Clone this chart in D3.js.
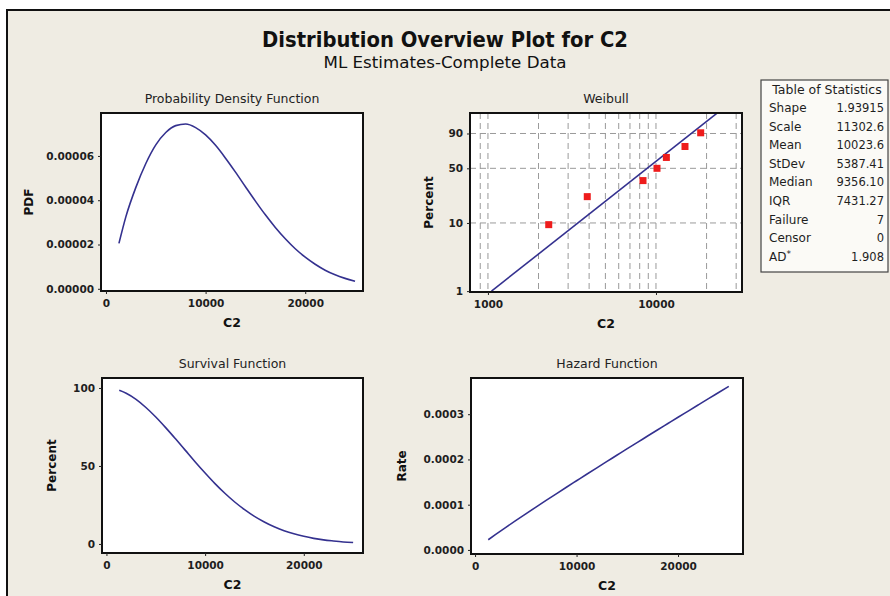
<!DOCTYPE html>
<html>
<head>
<meta charset="utf-8">
<script src="https://cdn.jsdelivr.net/npm/d3@7"></script>
<style>
  body { margin: 0; background: #fff; }
  svg { display: block; }
</style>
</head>
<body>
<svg id="chart" width="890" height="596"></svg>
<script>
// values
const xValues = [1300, 2000, 3000, 4000, 5000, 6000, 7000, 8000, 9000, 10000, 11000, 12000,
                 13000, 14000, 15000, 16000, 17000, 18000, 19000, 20000, 21000, 22000, 23000, 24000, 25000];
const pdfValues = [2.05e-5, 3.26e-5, 4.58e-5, 5.66e-5, 6.50e-5, 7.06e-5, 7.37e-5, 7.44e-5, 7.28e-5, 6.95e-5,
                   6.48e-5, 5.90e-5, 5.27e-5, 4.61e-5, 3.96e-5, 3.34e-5, 2.77e-5, 2.26e-5, 1.81e-5, 1.43e-5,
                   1.11e-5, 0.84e-5, 0.63e-5, 0.47e-5, 0.34e-5];
const survivalValues = [98.5, 96.6, 92.7, 87.5, 81.4, 74.6, 67.4, 60.0, 52.6, 45.5, 38.7, 32.5, 26.9,
                        22.0, 17.7, 14.1, 11.0, 8.5, 6.5, 4.9, 3.6, 2.6, 1.9, 1.3, 0.9];
const hazardValues = [2.25e-5, 3.37e-5, 4.94e-5, 6.47e-5, 7.98e-5, 9.47e-5, 1.094e-4, 1.240e-4, 1.385e-4,
                      1.529e-4, 1.673e-4, 1.815e-4, 1.956e-4, 2.097e-4, 2.238e-4, 2.377e-4, 2.517e-4,
                      2.656e-4, 2.794e-4, 2.932e-4, 3.069e-4, 3.206e-4, 3.343e-4, 3.479e-4, 3.615e-4];

// Weibull probability plot
const failureTimes = [2300, 3900, 8370, 10140, 11530, 14880, 18450];
const failurePercent = [9.46, 22.97, 36.49, 50.0, 63.51, 77.03, 90.54];
const fitTimes = [1050, 23000];
const fitPercent = [1, 99];
const weibullXGrid = [900, 1000, 2000, 3000, 4000, 5000, 6000, 7000, 8000, 9000, 10000, 20000, 30000];
const weibullXTicks = [1000, 10000];
const weibullYTicks = [1, 10, 50, 90];
const weibullYGrid = [10, 50, 90];

const linearXTicks = [0, 10000, 20000];
const pdfTicks = [0, 0.00002, 0.00004, 0.00006];
const survivalTicks = [0, 50, 100];
const hazardTicks = [0, 0.0001, 0.0002, 0.0003];

const statNames = ['Shape', 'Scale', 'Mean', 'StDev', 'Median', 'IQR', 'Failure', 'Censor', 'AD*'];
const statValues = ['1.93915', '11302.6', '10023.6', '5387.41', '9356.10', '7431.27', '7', '0', '1.908'];

const font = "'DejaVu Sans', Verdana, sans-serif";
const ink = '#1e1e1e';
const curveColor = '#34318f';

const svg = d3.select('#chart');

// figure background + frame
svg.append('rect').attr('x', 7).attr('y', 10).attr('width', 900).attr('height', 600).attr('fill', '#efece3');
svg.append('path').attr('d', 'M7,600V10H900').attr('fill', 'none').attr('stroke', '#111').attr('stroke-width', 2);

svg.append('text')
    .attr('x', 445).attr('y', 47)
    .attr('text-anchor', 'middle')
    .attr('textLength', 366).attr('lengthAdjust', 'spacingAndGlyphs')
    .style('font-family', font).style('font-weight', 'bold').style('font-size', '22px').style('fill', '#111')
    .text('Distribution Overview Plot for C2');

svg.append('text')
    .attr('x', 445).attr('y', 68)
    .attr('text-anchor', 'middle')
    .attr('textLength', 243).attr('lengthAdjust', 'spacingAndGlyphs')
    .style('font-family', font).style('font-size', '15px').style('fill', '#111')
    .text('ML Estimates-Complete Data');

let clipId = 0;

function panel(box, title) {
    let g = svg.append('g');
    g.append('rect')
        .attr('x', box.x0).attr('y', box.y0)
        .attr('width', box.x1 - box.x0).attr('height', box.y1 - box.y0)
        .attr('fill', '#fff');
    g.append('text')
        .attr('x', (box.x0 + box.x1) / 2).attr('y', box.y0 - 10)
        .attr('text-anchor', 'middle')
        .style('font-family', font).style('font-size', '12.5px').style('fill', '#222')
        .text(title);
    clipId++;
    svg.append('clipPath').attr('id', 'clip' + clipId)
        .append('rect')
        .attr('x', box.x0).attr('y', box.y0)
        .attr('width', box.x1 - box.x0).attr('height', box.y1 - box.y0);
    g.clip = 'url(#clip' + clipId + ')';
    return g;
}

function border(g, box) {
    g.append('rect')
        .attr('x', box.x0).attr('y', box.y0)
        .attr('width', box.x1 - box.x0).attr('height', box.y1 - box.y0)
        .attr('fill', 'none').attr('stroke', '#111').attr('stroke-width', 2);
}

function styleAxis(a) {
    a.select('.domain').remove();
    a.selectAll('line').attr('stroke', '#222');
    a.selectAll('text')
        .style('font-family', font).style('font-size', '10.5px').style('font-weight', 'bold').style('fill', ink);
}

function axes(g, box, x, y, xTicks, yTicks, xFmt, yFmt, xTitle, yTitle, yTitleX) {
    let xa = g.append('g').attr('transform', `translate(0, ${box.y1})`)
        .call(d3.axisBottom(x).tickValues(xTicks).tickFormat(xFmt).tickSize(3).tickPadding(6));
    styleAxis(xa);
    let ya = g.append('g').attr('transform', `translate(${box.x0}, 0)`)
        .call(d3.axisLeft(y).tickValues(yTicks).tickFormat(yFmt).tickSize(3).tickPadding(4));
    styleAxis(ya);

    g.append('text')
        .attr('x', (box.x0 + box.x1) / 2).attr('y', box.y1 + 36)
        .attr('text-anchor', 'middle')
        .style('font-family', font).style('font-size', '12.5px').style('font-weight', 'bold').style('fill', '#111')
        .text(xTitle);
    let cy = (box.y0 + box.y1) / 2;
    g.append('text')
        .attr('transform', `translate(${yTitleX}, ${cy}) rotate(-90)`)
        .attr('text-anchor', 'middle')
        .style('font-family', font).style('font-size', '12px').style('font-weight', 'bold').style('fill', '#111')
        .text(yTitle);
}

const curveData = (vals) => xValues.map((d, i) => ({x: d, y: vals[i]}));

function curve(g, x, y, vals) {
    let line = d3.line().x(d => x(d.x)).y(d => y(d.y)).curve(d3.curveMonotoneX);
    g.append('path')
        .datum(curveData(vals))
        .attr('clip-path', g.clip)
        .attr('d', line)
        .attr('fill', 'none')
        .attr('stroke', curveColor)
        .attr('stroke-width', 1.6);
}

// ---- Probability Density Function
let pdfBox = {x0: 101, y0: 113, x1: 363, y1: 291};
let pdfG = panel(pdfBox, 'Probability Density Function');
let pdfX = d3.scaleLinear().domain([-500, 25800]).range([pdfBox.x0, pdfBox.x1]);
let pdfY = d3.scaleLinear().domain([-1.0e-6, 7.94e-5]).range([pdfBox.y1, pdfBox.y0]);
curve(pdfG, pdfX, pdfY, pdfValues);
border(pdfG, pdfBox);
axes(pdfG, pdfBox, pdfX, pdfY, linearXTicks, pdfTicks, d3.format('d'), d => d.toFixed(5), 'C2', 'PDF', 33);

// ---- Weibull probability plot
let wbBox = {x0: 470, y0: 113, x1: 742, y1: 292};
let wbG = panel(wbBox, 'Weibull');
const wbT = p => Math.log(-Math.log(1 - p / 100));
let wbX = d3.scaleLog().domain([782, 32500]).range([wbBox.x0, wbBox.x1]);
let wbLin = d3.scaleLinear().domain([wbT(0.97), wbT(99.06)]).range([wbBox.y1, wbBox.y0]);
let wbY = p => wbLin(wbT(p));

wbG.append('g').selectAll('line')
    .data(weibullXGrid)
    .enter()
        .append('line')
        .attr('x1', d => wbX(d)).attr('x2', d => wbX(d))
        .attr('y1', wbBox.y0).attr('y2', wbBox.y1)
        .attr('stroke', '#9a9a9a').attr('stroke-dasharray', '6,4');
wbG.append('g').selectAll('line')
    .data(weibullYGrid)
    .enter()
        .append('line')
        .attr('x1', wbBox.x0).attr('x2', wbBox.x1)
        .attr('y1', d => wbY(d)).attr('y2', d => wbY(d))
        .attr('stroke', '#9a9a9a').attr('stroke-dasharray', '6,4');

let fitLine = d3.line().x(d => wbX(d.x)).y(d => wbY(d.p));
wbG.append('path')
    .datum(fitTimes.map((d, i) => ({x: d, p: fitPercent[i]})))
    .attr('clip-path', wbG.clip)
    .attr('d', fitLine)
    .attr('fill', 'none')
    .attr('stroke', curveColor)
    .attr('stroke-width', 1.6);

wbG.append('g').selectAll('rect')
    .data(failureTimes.map((d, i) => ({x: d, p: failurePercent[i]})))
    .enter()
        .append('rect')
        .attr('x', d => wbX(d.x) - 3.5).attr('y', d => wbY(d.p) - 3.5)
        .attr('width', 7).attr('height', 7)
        .attr('fill', '#ee1c1c');

border(wbG, wbBox);
// y ticks placed through the Weibull probability transform
let wbYTickScale = Object.assign(p => wbY(p), {
    ticks: () => weibullYTicks, tickFormat: () => d3.format('d'),
    copy: function () { return this; }, domain: () => [0.97, 99.06], range: () => wbLin.range()
});
let wbXa = wbG.append('g').attr('transform', `translate(0, ${wbBox.y1})`)
    .call(d3.axisBottom(wbX).tickValues(weibullXTicks).tickFormat(d3.format('d')).tickSize(3).tickPadding(6));
styleAxis(wbXa);
let wbYa = wbG.append('g').attr('transform', `translate(${wbBox.x0}, 0)`)
    .call(d3.axisLeft(wbYTickScale).tickValues(weibullYTicks).tickFormat(d3.format('d')).tickSize(3).tickPadding(4));
styleAxis(wbYa);
wbG.append('text')
    .attr('x', (wbBox.x0 + wbBox.x1) / 2).attr('y', wbBox.y1 + 36)
    .attr('text-anchor', 'middle')
    .style('font-family', font).style('font-size', '12.5px').style('font-weight', 'bold').style('fill', '#111')
    .text('C2');
wbG.append('text')
    .attr('transform', `translate(433, ${(wbBox.y0 + wbBox.y1) / 2}) rotate(-90)`)
    .attr('text-anchor', 'middle')
    .style('font-family', font).style('font-size', '12px').style('font-weight', 'bold').style('fill', '#111')
    .text('Percent');

// ---- Survival Function
let svBox = {x0: 102, y0: 378, x1: 363, y1: 553};
let svG = panel(svBox, 'Survival Function');
let svX = d3.scaleLinear().domain([-450, 26000]).range([svBox.x0, svBox.x1]);
let svY = d3.scaleLinear().domain([-5.8, 106.4]).range([svBox.y1, svBox.y0]);
curve(svG, svX, svY, survivalValues);
border(svG, svBox);
axes(svG, svBox, svX, svY, linearXTicks, survivalTicks, d3.format('d'), d3.format('d'), 'C2', 'Percent', 56);

// ---- Hazard Function
let hzBox = {x0: 471, y0: 378, x1: 743, y1: 554};
let hzG = panel(hzBox, 'Hazard Function');
let hzX = d3.scaleLinear().domain([-400, 26400]).range([hzBox.x0, hzBox.x1]);
let hzY = d3.scaleLinear().domain([-0.9e-5, 3.8e-4]).range([hzBox.y1, hzBox.y0]);
curve(hzG, hzX, hzY, hazardValues);
border(hzG, hzBox);
axes(hzG, hzBox, hzX, hzY, linearXTicks, hazardTicks, d3.format('d'), d => d.toFixed(4), 'C2', 'Rate', 406);

// ---- Table of Statistics
let table = svg.append('g');
table.append('rect')
    .attr('x', 761).attr('y', 80).attr('width', 127).attr('height', 192)
    .attr('fill', '#fbfaf6').attr('stroke', '#444').attr('stroke-width', 1.2);
table.append('text')
    .attr('x', 827).attr('y', 94)
    .attr('text-anchor', 'middle')
    .style('font-family', font).style('font-size', '12.5px').style('fill', ink)
    .text('Table of Statistics');

let rows = table.selectAll('g.row')
    .data(statNames)
    .enter()
        .append('g')
        .attr('class', 'row')
        .attr('transform', (d, i) => `translate(0, ${112 + i * 18.6})`);

rows.append('text')
    .attr('x', 769)
    .style('font-family', font).style('font-size', '12px').style('fill', ink)
    .each(function (d) {
        let t = d3.select(this);
        if (d.endsWith('*')) {
            t.append('tspan').text(d.slice(0, -1));
            t.append('tspan').attr('dy', -4).style('font-size', '9px').text('*');
        } else {
            t.text(d);
        }
    });

rows.append('text')
    .attr('x', 884)
    .attr('text-anchor', 'end')
    .style('font-family', font).style('font-size', '11.5px').style('fill', ink)
    .text((d, i) => statValues[i]);
</script>
</body>
</html>
